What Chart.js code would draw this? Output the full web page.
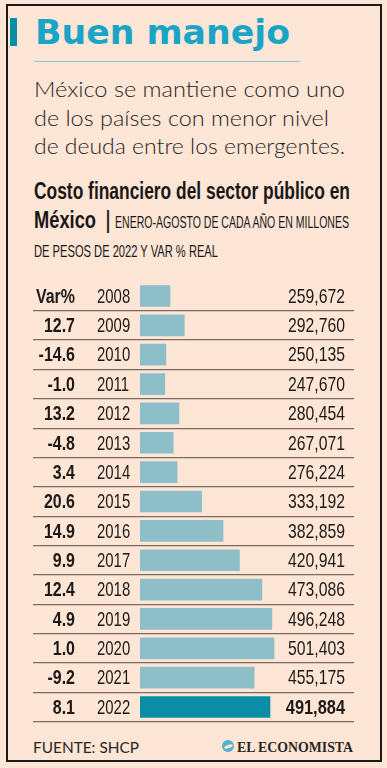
<!DOCTYPE html>
<html><head><meta charset="utf-8">
<script src="https://cdn.jsdelivr.net/npm/chart.js@4"></script>
<style>
html,body{margin:0;padding:0;}
body{width:387px;height:768px;background:#fde6d6;position:relative;overflow:hidden;}
.frame{position:absolute;left:6px;top:4px;width:372px;height:754px;border:2px solid #1c1a19;}
.accent{position:absolute;left:10px;top:18px;width:7px;height:28px;background:#0b8ea6;}
.t{position:absolute;white-space:nowrap;transform-origin:0 0;}
#title{left:35px;top:12px;font:700 34px "DejaVu Sans",sans-serif;color:#1aa4c6;line-height:40px;}
#rule{position:absolute;left:34px;top:61px;width:266px;height:1px;background:#7fc6d6;}
.sub{left:34px;font:300 21px "Lato","Open Sans",sans-serif;color:#2a2523;line-height:26px;}
.ct{font:700 23px "Liberation Sans",sans-serif;color:#1a1716;line-height:28px;}
.cs{font:400 16px "Liberation Sans",sans-serif;color:#1a1716;line-height:20px;}
#foot{left:33px;top:737px;font:400 16px "Lato","Open Sans",sans-serif;color:#2a2523;line-height:20px;}
#brand{left:237px;top:737px;font:700 15px "Liberation Serif",serif;color:#2b2623;line-height:20px;}
#logo{position:absolute;left:222px;top:740px;width:12px;height:12px;border-radius:50%;background:#4fb3cf;overflow:hidden;}
#logo:after{content:"";position:absolute;left:2px;top:5px;width:9px;height:3px;border-radius:50%;background:#fde6d6;transform:rotate(-20deg);}
#wrap{position:absolute;left:0;top:275px;width:387px;height:460px;}
</style></head>
<body>
<div class="frame"></div>
<div class="accent"></div>
<div class="t" id="title" data-w="255">Buen manejo</div>
<div id="rule"></div>
<div class="t sub" style="top:76px" data-w="311">México se mantiene como uno</div>
<div class="t sub" style="top:105px" data-w="295">de los países con menor nivel</div>
<div class="t sub" style="top:133px" data-w="311">de deuda entre los emergentes.</div>
<div class="t ct" style="left:34px;top:177px" data-w="316">Costo financiero del sector público en</div>
<div class="t ct" style="left:34px;top:206px" data-w="62">México</div>
<div class="t cs" style="left:105px;top:209px;font-size:23px;font-weight:300;line-height:23px;">|</div>
<div class="t cs" style="left:115px;top:213px;font-size:17px" data-w="234">ENERO-AGOSTO DE CADA AÑO EN MILLONES</div>
<div class="t cs" style="left:34px;top:242px;font-size:17px" data-w="184">DE PESOS DE 2022 Y VAR % REAL</div>
<div id="wrap"><canvas id="cv"></canvas></div>
<div class="t" id="foot" data-w="106">FUENTE: SHCP</div>
<div id="logo"></div>
<div class="t" id="brand" data-w="116">EL ECONOMISTA</div>
<script>
const years = ['2008','2009','2010','2011','2012','2013','2014','2015','2016','2017','2018','2019','2020','2021','2022'];
const values = [259672,292760,250135,247670,280454,267071,276224,333192,382859,420941,473086,496248,501403,455175,491884];
const varPct = ['Var%','12.7','-14.6','-1.0','13.2','-4.8','3.4','20.6','14.9','9.9','12.4','4.9','1.0','-9.2','8.1'];
const barColors = years.map((y,i)=> i===years.length-1 ? '#0a8ea6' : '#8ebec8');
const lineColor = '#7b6a5f';

function fitAll(){
  document.querySelectorAll('[data-w]').forEach(el=>{
    el.style.transform='none';
    const w = el.getBoundingClientRect().width;
    el.style.transform = 'scaleX(' + (+el.dataset.w / w) + ')';
  });
}
fitAll();
if (document.fonts && document.fonts.ready) document.fonts.ready.then(fitAll);

function drawText(ctx, text, x, y, sx, align){
  ctx.save();
  ctx.translate(x, y);
  ctx.scale(sx, 1);
  ctx.textAlign = align;
  ctx.fillText(text, 0, 0);
  ctx.restore();
}

const rowLabels = {
  id:'rowLabels',
  afterDraw(chart){
    const ctx = chart.ctx, ys = chart.scales.y;
    ctx.save();
    ctx.fillStyle = '#1d1918';
    ctx.textBaseline = 'middle';
    years.forEach((yr,i)=>{
      const py = ys.getPixelForValue(i) + 1;
      ctx.font = '700 21px "Liberation Sans", sans-serif';
      drawText(ctx, varPct[i], 75, py, 0.76, 'right');
      ctx.font = '400 21px "Liberation Sans", sans-serif';
      drawText(ctx, yr, 97, py, 0.71, 'left');
      const last = i===years.length-1;
      ctx.font = (last?'700 ':'400 ') + '21px "Liberation Sans", sans-serif';
      drawText(ctx, values[i].toLocaleString('en-US'), 345, py, last?0.78:0.75, 'right');
    });
    ctx.restore();
  }
};

new Chart(document.getElementById('cv'), {
  type:'bar',
  data:{labels:years, datasets:[{data:values, backgroundColor:barColors, barThickness:21, borderWidth:0}]},
  options:{
    indexAxis:'y', responsive:true, maintainAspectRatio:false, animation:false,
    layout:{padding:{left:33,right:33,top:6.3,bottom:13.3}},
    plugins:{legend:{display:false}, tooltip:{enabled:false}},
    scales:{
      x:{display:false, min:190000, max:687000},
      y:{
        afterFit(s){ s.width = 107; },
        border:{display:false},
        ticks:{display:false},
        grid:{
          offset:true, drawTicks:true, tickLength:107, lineWidth:1.2, tickWidth:1.2,
          color:(c)=> c.index===0 ? 'rgba(0,0,0,0)' : lineColor,
          tickColor:(c)=> c.index===0 ? 'rgba(0,0,0,0)' : lineColor
        }
      }
    }
  },
  plugins:[rowLabels]
});
</script>
</body></html>
